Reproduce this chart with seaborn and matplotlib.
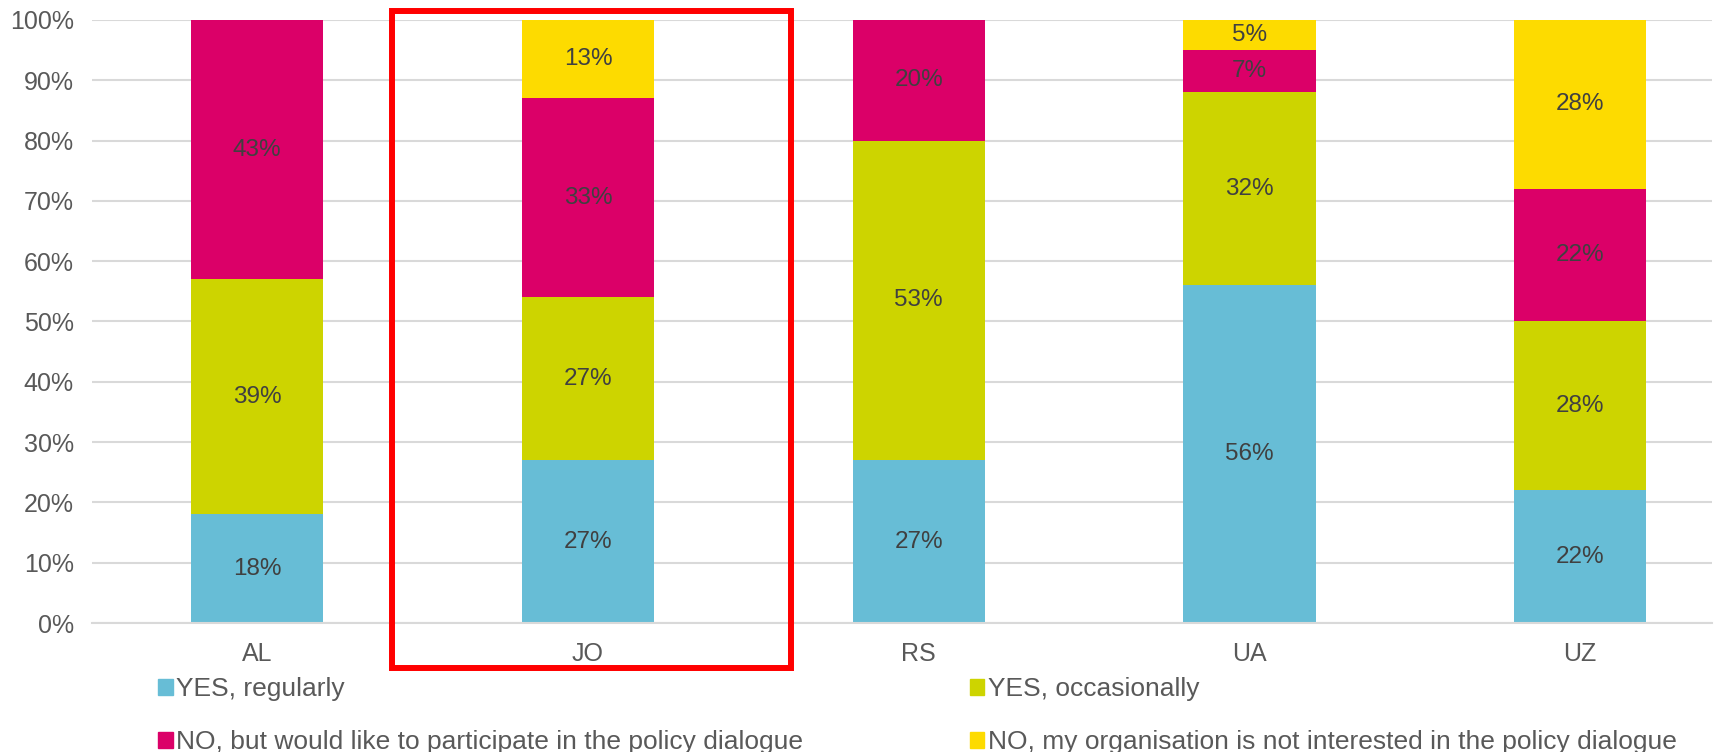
import matplotlib
matplotlib.use("Agg")
import matplotlib.pyplot as plt
import matplotlib.patches as mpatches
import numpy as np
import pandas as pd
import seaborn as sns

# Survey results per country (percent of respondents)
countries = ["AL", "JO", "RS", "UA", "UZ"]
yes_regularly = [18, 27, 27, 56, 22]
yes_occasionally = [39, 27, 53, 32, 28]
no_would_like = [43, 33, 20, 7, 22]
no_not_interested = [0, 13, 0, 5, 28]

series_names = [
    "YES, regularly",
    "YES, occasionally",
    "NO, but would like to participate in the policy dialogue",
    "NO, my organisation is not interested in the policy dialogue",
]
series_values = [yes_regularly, yes_occasionally, no_would_like, no_not_interested]
series_colors = ["#67BDD6", "#CDD400", "#DB0068", "#FDDB00"]
y_ticks = [0, 10, 20, 30, 40, 50, 60, 70, 80, 90, 100]

sns.set_theme(style="white")
plt.rcParams["font.family"] = ["Liberation Sans", "DejaVu Sans"]

fig = plt.figure(figsize=(17.35, 7.52), dpi=100)
ax = fig.add_axes([0.053, 0.1715, 0.934, 0.802])

vals = np.array(series_values, dtype=float)
cum = np.cumsum(vals, axis=0)

# Stacked bars: draw cumulative totals from the top layer down
for i in range(len(series_names) - 1, -1, -1):
    df = pd.DataFrame({"country": countries, "value": cum[i]})
    sns.barplot(data=df, x="country", y="value", color=series_colors[i],
                saturation=1, width=0.4, linewidth=0, ax=ax, zorder=2)

# Segment labels
for i in range(len(series_names)):
    for j, c in enumerate(countries):
        v = vals[i, j]
        if v <= 0:
            continue
        mid = cum[i, j] - v / 2
        ax.text(j, mid, f"{v:.0f}%", ha="center", va="center",
                fontsize=17.5, color="#404040", zorder=3)

ax.set_xlim(-0.5, 4.40)
ax.set_ylim(0, 100)
ax.set_yticks(y_ticks)
ax.set_yticklabels([f"{t}%" for t in y_ticks])
ax.yaxis.grid(True, color="#D9D9D9", linewidth=1.5, zorder=0)
ax.set_axisbelow(True)
for s in ["top", "right", "left"]:
    ax.spines[s].set_visible(False)
ax.spines["bottom"].set_color("#D9D9D9")
ax.spines["bottom"].set_linewidth(1.5)
ax.tick_params(axis="both", length=0, labelsize=18, colors="#595959")
ax.tick_params(axis="x", pad=14)
ax.tick_params(axis="y", pad=13)
ax.set_xlabel("")
ax.set_ylabel("")

# Legend in two columns below the chart
handles = [mpatches.Patch(color=c, label=n) for c, n in zip(series_colors, series_names)]
order = [0, 2, 1, 3]
leg = fig.legend([handles[k] for k in order], [series_names[k] for k in order],
                 ncol=2, loc="upper left", bbox_to_anchor=(158 / 1735, 1 - 677 / 752),
                 frameon=False, fontsize=19, handlelength=0.55, handleheight=0.55,
                 handletextpad=0.15, columnspacing=6.3, labelspacing=1.1,
                 borderaxespad=0, borderpad=0)
for t in leg.get_texts():
    t.set_color("#595959")

# Highlight frame around JO
rect = mpatches.Rectangle((392 / 1735, 1 - 668 / 752), (791 - 392) / 1735, (668 - 11) / 752,
                          transform=fig.transFigure, fill=False, edgecolor="#FF0000",
                          linewidth=4.3, zorder=10)
fig.patches.append(rect)

fig.savefig("out.png", dpi=100, facecolor="white")
